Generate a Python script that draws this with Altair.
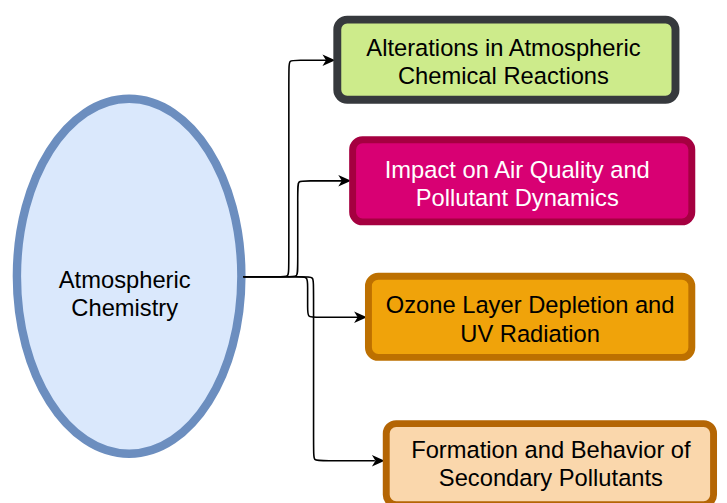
import altair as alt
import pandas as pd

# ---- content ----
center_label = "Atmospheric\nChemistry"
box_labels = [
    "Alterations in Atmospheric\nChemical Reactions",
    "Impact on Air Quality and\nPollutant Dynamics",
    "Ozone Layer Depletion and\nUV Radiation",
    "Formation and Behavior of\nSecondary Pollutants",
]

# ---- diagram layout (reference pixel space) ----
box_left = [337, 353, 369, 387]
box_right = [687, 703, 703, 725]
box_top = [13, 135, 273, 422]
box_bottom = [102, 225, 362, 511]
box_border = [8, 7, 7, 7]
box_fill = ["#cdeb8b", "#d80073", "#f0a30a", "#fad7ac"]
box_stroke = ["#36393d", "#a50040", "#bd7000", "#b46504"]
text_color = ["#000000", "#ffffff", "#000000", "#000000"]
text_x = [509, 523, 536, 557]
text_baseline_y = [54, 177, 314, 460]

ellipse_cx, ellipse_cy = 130.5, 276.5
ellipse_rx, ellipse_ry = 113.5, 179.5

# connector waypoints (control polygon for rounded elbows)
conn_x = [
    [246, 246, 284, 292, 292, 292, 292, 300, 330, 330],
    [246, 246, 293, 301, 301, 301, 301, 309, 346, 346],
    [246, 246, 303, 311, 311, 311, 311, 319, 362, 362],
    [246, 246, 309, 317, 317, 317, 317, 325, 379, 379],
]
conn_y = [
    [277, 277, 277, 277, 269, 66, 58, 58, 58, 58],
    [277, 277, 277, 277, 269, 188, 180, 180, 180, 180],
    [277, 277, 277, 277, 285, 310, 318, 318, 318, 318],
    [277, 277, 277, 277, 285, 455, 463, 463, 463, 463],
]
arrow_x = [339, 355, 371, 389]
arrow_y = [58, 180, 318, 463]

FONT = "Liberation Sans"
FS = 24

# ---- tables ----
boxes = pd.DataFrame({
    "label": box_labels,
    "x": [l + b / 2 for l, b in zip(box_left, box_border)],
    "x2": [r - b / 2 for r, b in zip(box_right, box_border)],
    "y": [t + b / 2 for t, b in zip(box_top, box_border)],
    "y2": [d - b / 2 for d, b in zip(box_bottom, box_border)],
    "sw": box_border,
    "fillc": box_fill,
    "strokec": box_stroke,
    "tcolor": text_color,
    "tx": text_x,
    "ty": text_baseline_y,
})

rows = []
for c, (xs_, ys_) in enumerate(zip(conn_x, conn_y)):
    for i, (xv, yv) in enumerate(zip(xs_, ys_)):
        rows.append({"conn": c, "i": i, "x": xv, "y": yv})
conns = pd.DataFrame(rows)
arrows = pd.DataFrame({"x": arrow_x, "y": arrow_y})
center = pd.DataFrame({"x": [ellipse_cx], "y": [ellipse_cy], "label": [center_label],
                       "tx": [126], "ty": [288]})

xs = alt.Scale(domain=[8, 727], nice=False, zero=False)
ys = alt.Scale(domain=[8, 503], nice=False, zero=False, reverse=True)


def X(f):
    return alt.X(f, scale=xs, axis=None)


def Y(f):
    return alt.Y(f, scale=ys, axis=None)


# ellipse as a custom symbol path (unit = ry)
a = ellipse_rx / ellipse_ry
k = 0.5523
ell_path = (
    f"M {a:.4f} 0 C {a:.4f} {k:.4f} {a*k:.4f} 1 0 1 "
    f"C {-a*k:.4f} 1 {-a:.4f} {k:.4f} {-a:.4f} 0 "
    f"C {-a:.4f} {-k:.4f} {-a*k:.4f} -1 0 -1 "
    f"C {a*k:.4f} -1 {a:.4f} {-k:.4f} {a:.4f} 0 Z"
)
ellipse = alt.Chart(center).mark_point(
    shape=ell_path, size=(2 * ellipse_ry) ** 2, filled=True,
    fill="#dae8fc", stroke="#6c8ebf", strokeWidth=8.5, opacity=1, fillOpacity=1,
).encode(x=X("x:Q"), y=Y("y:Q"))

center_text = alt.Chart(center).mark_text(
    font=FONT, fontSize=FS, lineHeight=28.5, lineBreak="\n",
    align="center", baseline="alphabetic", color="#000000",
).encode(x=X("tx:Q"), y=Y("ty:Q"), text="label:N")

rects = alt.Chart(boxes).mark_rect(cornerRadius=10).encode(
    x=X("x:Q"), x2="x2:Q",
    y=Y("y:Q"), y2="y2:Q",
    fill=alt.Fill("fillc:N", scale=None, legend=None),
    stroke=alt.Stroke("strokec:N", scale=None, legend=None),
    strokeWidth=alt.StrokeWidth("sw:Q", scale=None, legend=None),
)
rect_text = alt.Chart(boxes).mark_text(
    font=FONT, fontSize=FS, lineHeight=28.5, lineBreak="\n",
    align="center", baseline="alphabetic",
).encode(
    x=X("tx:Q"), y=Y("ty:Q"),
    text="label:N", color=alt.Color("tcolor:N", scale=None, legend=None),
)

lines = alt.Chart(conns).mark_line(
    color="#000000", strokeWidth=1.6, interpolate="basis",
).encode(
    x=X("x:Q"), y=Y("y:Q"),
    detail="conn:N", order="i:Q",
)
arrow_path = "M 0 0 L -2 -0.9 L -1.45 0 L -2 0.9 Z"
heads = alt.Chart(arrows).mark_point(
    shape=arrow_path, size=169, filled=True, color="#000000", opacity=1,
    strokeWidth=0.5,
).encode(x=X("x:Q"), y=Y("y:Q"))

chart = alt.layer(ellipse, lines, heads, rects, center_text, rect_text).properties(
    width=719, height=495,
    autosize=alt.AutoSizeParams(type="none"),
    padding=0,
    background="#ffffff",
).configure_view(stroke=None)

chart.save("out.html", embed_options={"renderer": "svg", "actions": False})
